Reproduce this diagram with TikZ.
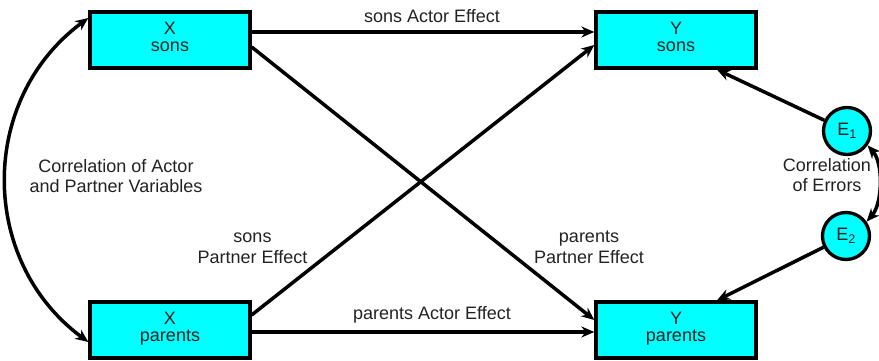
\documentclass[tikz,border=0pt]{standalone}
\usepackage{fontspec}
\setmainfont{Liberation Sans}
\usetikzlibrary{arrows.meta}
\definecolor{txt}{HTML}{222222}
\definecolor{aqua}{RGB}{0,255,255}
\tikzset{
  box/.style={draw=black, line width=3.3pt, fill=aqua, minimum width=160pt, minimum height=56pt, inner sep=0pt,
    align=center, text=txt, font=\fontsize{18}{17}\selectfont, text height=23pt, text depth=0pt},
  err/.style={draw=black, line width=3.3pt, fill=aqua, circle, minimum size=47pt, inner sep=0pt, text=txt,
    font=\fontsize{18}{21}\selectfont},
  lab/.style={align=center, text=txt, font=\fontsize{18}{21}\selectfont, inner sep=0pt, anchor=base},
  lab2/.style={align=center, text=txt, font=\fontsize{18}{20}\selectfont, inner sep=0pt, anchor=base},
  conn/.style={line width=3.5pt, -{Stealth[length=13pt,width=11pt]}},
  dconn/.style={line width=3.5pt, {Stealth[length=13pt,width=11pt]}-{Stealth[length=13pt,width=11pt]}},
}
\begin{document}
\begin{tikzpicture}[x=1pt,y=1pt]
\useasboundingbox (0,0) rectangle (879,361);
\node[box] (Xs) at (170,321) {X\\sons};
\node[box] (Xp) at (170,31) {X\\parents};
\node[box] (Ys) at (676,321) {Y\\sons};
\node[box] (Yp) at (676,31) {Y\\parents};
\node[err] (E1) at (847,230) {E\textsubscript{1}};
\node[err] (E2) at (846,125) {E\textsubscript{2}};

\draw[conn] ([yshift=8pt]Xs.east) -- ([yshift=8pt]Ys.west);
\draw[conn] ([yshift=-7pt]Xs.east) -- ([yshift=10pt]Yp.west);
\draw[conn] ([yshift=15pt]Xp.east) -- ([yshift=-5pt]Ys.west);
\draw[conn] ([yshift=-2pt]Xp.east) -- ([yshift=-2pt]Yp.west);
\draw[conn] (E1) -- ([xshift=41pt]Ys.south);
\draw[conn] (E2) -- ([xshift=41pt]Yp.north);
\draw[dconn] ([yshift=22pt]Xs.west) .. controls +(-110,-81) and +(-110,81) .. ([yshift=-12pt]Xp.west);
\draw[dconn] (E1.-35) .. controls +(16,-18) and +(16,18) .. (E2.35);

\node[lab] (lsa) at (432,338) {sons Actor Effect};
\node[lab] (lpa) at (432,41) {parents Actor Effect};
\node[lab] (lsp) at (252.5,97) {sons\\Partner Effect};
\node[lab] (lpp) at (589,97) {parents\\Partner Effect};
\node[lab2] (lca) at (116,168) {Correlation of Actor\\and Partner Variables};
\node[lab2] (lce) at (827,169) {Correlation\\of Errors};
\end{tikzpicture}
\end{document}
